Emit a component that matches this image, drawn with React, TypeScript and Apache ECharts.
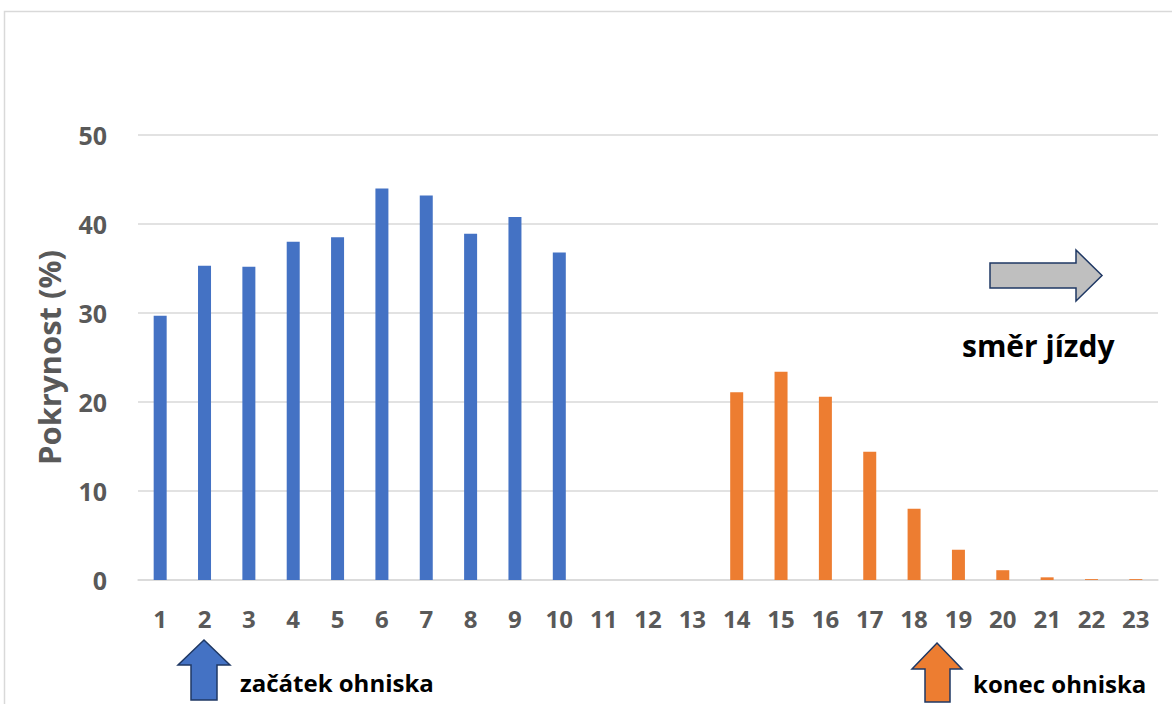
import React, { useEffect, useRef } from "react";
import * as echarts from "echarts";

const categories = ["1","2","3","4","5","6","7","8","9","10","11","12","13","14","15","16","17","18","19","20","21","22","23"];
const blueValues = [29.7, 35.3, 35.2, 38.0, 38.5, 44.0, 43.2, 38.9, 40.8, 36.8, "-", "-", "-", "-", "-", "-", "-", "-", "-", "-", "-", "-", "-"];
const orangeValues = ["-", "-", "-", "-", "-", "-", "-", "-", "-", "-", "-", "-", "-", 21.1, 23.4, 20.6, 14.4, 8.0, 3.4, 1.1, 0.3, 0.1, 0.1];
const yTicks = [0, 10, 20, 30, 40, 50];
const yTitle = "Pokrynost (%)";

const FONT = "'Open Sans', 'Noto Sans', sans-serif";

export default function App() {
  const ref = useRef<HTMLDivElement>(null);
  useEffect(() => {
    if (!ref.current) return;
    const chart = echarts.init(ref.current, null, { renderer: "svg" });
    const navy = "#1F3864";
    chart.setOption({
      animation: false,
      backgroundColor: "#ffffff",
      grid: { left: 138, right: 14, top: 135, bottom: 124, containLabel: false },
      xAxis: {
        type: "category",
        data: categories,
        axisLine: { show: true, lineStyle: { color: "#D9D9D9", width: 1.5 } },
        axisTick: { show: false },
        axisLabel: { color: "#595959", fontSize: 24, fontWeight: "bold", fontFamily: FONT, margin: 26 },
      },
      yAxis: {
        type: "value",
        min: yTicks[0],
        max: yTicks[yTicks.length - 1],
        interval: 10,
        name: yTitle,
        nameLocation: "middle",
        nameGap: 74,
        nameTextStyle: { color: "#595959", fontSize: 31, fontWeight: "bold", fontFamily: FONT },
        axisLine: { show: false },
        axisTick: { show: false },
        splitLine: { lineStyle: { color: "#D9D9D9", width: 1.5 } },
        axisLabel: { color: "#595959", fontSize: 25, fontWeight: "bold", fontFamily: FONT, margin: 31 },
      },
      series: [
        { type: "bar", stack: "s", data: blueValues, barWidth: 13, itemStyle: { color: "#4472C4" } },
        { type: "bar", stack: "s", data: orangeValues, barWidth: 13, itemStyle: { color: "#ED7D31" } },
      ],
      graphic: [
        {
          type: "rect",
          shape: { x: 4.5, y: 11.5, width: 1200, height: 720 },
          style: { fill: "none", stroke: "#D9D9D9", lineWidth: 1.5 },
          silent: true,
        },
        {
          type: "polygon",
          shape: { points: [[204, 640], [230, 665], [217, 665], [217, 700], [191, 700], [191, 665], [178, 665]] },
          style: { fill: "#4472C4", stroke: navy, lineWidth: 1.5 },
        },
        {
          type: "text",
          x: 240, y: 682,
          style: { text: "začátek ohniska", fill: "#000000", font: `bold 24px ${FONT}`, verticalAlign: "middle" },
        },
        {
          type: "polygon",
          shape: { points: [[937, 643], [962, 669], [950, 669], [950, 702], [925, 702], [925, 669], [912, 669]] },
          style: { fill: "#ED7D31", stroke: navy, lineWidth: 1.5 },
        },
        {
          type: "text",
          x: 973, y: 683,
          style: { text: "konec ohniska", fill: "#000000", font: `bold 24px ${FONT}`, verticalAlign: "middle" },
        },
        {
          type: "polygon",
          shape: { points: [[990, 263], [1076, 263], [1076, 250], [1102, 275.5], [1076, 301], [1076, 288], [990, 288]] },
          style: { fill: "#BFBFBF", stroke: navy, lineWidth: 1.5 },
        },
        {
          type: "text",
          x: 962, y: 345,
          style: { text: "směr jízdy", fill: "#000000", font: `bold 30px ${FONT}`, verticalAlign: "middle" },
        },
      ],
    });
    return () => chart.dispose();
  }, []);
  return (
    <div
      ref={ref}
      style={{ position: "fixed", left: 0, top: 0, width: 1172, height: 704, background: "#fff" }}
    />
  );
}
